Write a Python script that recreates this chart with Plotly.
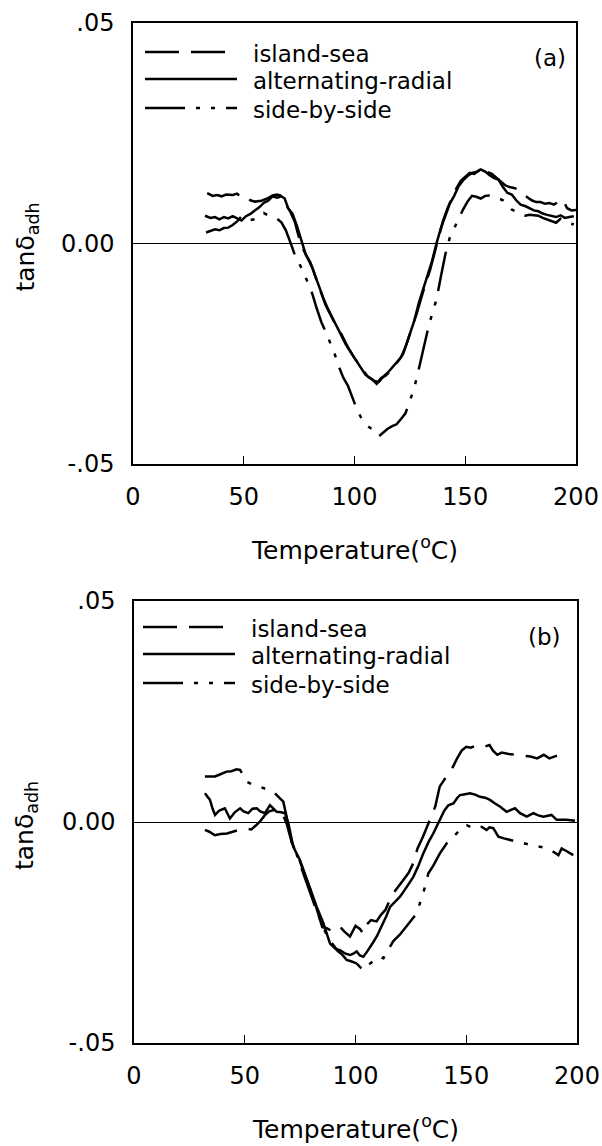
import plotly.graph_objects as go

# ---------------- data ----------------
series_names = ["island-sea", "alternating-radial", "side-by-side"]

# Panel (a)
a_island_x = [33.5, 36, 38, 40, 42, 45, 47, 49, 51, 53, 55, 58, 61, 63, 65, 67, 69, 71, 73, 75, 77, 79, 81, 83, 85, 87, 89, 91, 94, 97, 100, 103, 106, 108, 110, 112, 114, 116, 118, 120, 122, 124, 126, 128, 130, 132, 134, 136, 138, 140, 142, 144, 146, 148, 150, 152, 154, 156, 158, 160, 162, 164, 166, 168, 170, 172, 174, 176, 178, 180, 182, 184, 186, 188, 190, 192, 194, 196, 198, 200]
a_island_y = [0.0114, 0.0108, 0.0110, 0.0107, 0.0111, 0.0110, 0.0113, 0.0104, 0.0106, 0.0098, 0.0095, 0.0097, 0.0103, 0.0109, 0.0111, 0.0108, 0.0090, 0.0072, 0.0050, 0.0012, -0.0015, -0.0035, -0.0055, -0.0085, -0.0115, -0.0140, -0.0160, -0.0180, -0.0205, -0.0235, -0.0260, -0.0282, -0.0302, -0.0308, -0.0318, -0.0305, -0.0300, -0.0290, -0.0278, -0.0265, -0.0250, -0.0222, -0.0190, -0.0160, -0.0125, -0.0092, -0.0062, -0.0025, 0.0015, 0.0052, 0.0080, 0.0103, 0.0125, 0.0142, 0.0150, 0.0160, 0.0158, 0.0165, 0.0175, 0.0162, 0.0158, 0.0150, 0.0140, 0.0132, 0.0128, 0.0126, 0.0122, 0.0112, 0.0105, 0.0098, 0.0094, 0.0094, 0.0090, 0.0092, 0.0088, 0.0094, 0.0100, 0.0080, 0.0075, 0.0076]

a_radial_x = [32.5, 35, 37, 39, 41, 43, 45, 47, 49, 51, 53, 55, 57, 59, 61, 63, 65, 67, 68.5, 70, 72, 74, 76, 78, 80, 82, 84, 86, 88, 90, 93, 96, 99, 102, 105, 107, 109, 111, 113, 115, 117, 119, 121, 123, 125, 127, 129, 131, 133, 135, 137, 139, 141, 143, 145, 147, 149, 151, 153, 155, 157, 159, 161, 163, 165, 167, 169, 171, 173, 175, 177, 179, 181, 183, 185, 187, 189, 191, 193, 195, 197, 199]
a_radial_y = [0.0063, 0.0058, 0.0060, 0.0055, 0.0060, 0.0057, 0.0062, 0.0056, 0.0052, 0.0062, 0.0067, 0.0075, 0.0082, 0.0092, 0.0097, 0.0107, 0.0104, 0.0107, 0.0102, 0.0080, 0.0068, 0.0040, 0.0005, -0.0025, -0.0042, -0.0070, -0.0095, -0.0125, -0.0148, -0.0168, -0.0195, -0.0228, -0.0252, -0.0275, -0.0298, -0.0305, -0.0312, -0.0314, -0.0302, -0.0293, -0.0282, -0.0270, -0.0258, -0.0235, -0.0205, -0.0175, -0.0135, -0.0105, -0.0072, -0.0040, 0.0000, 0.0035, 0.0062, 0.0090, 0.0108, 0.0130, 0.0143, 0.0153, 0.0160, 0.0162, 0.0168, 0.0163, 0.0155, 0.0148, 0.0145, 0.0128, 0.0115, 0.0111, 0.0098, 0.0088, 0.0085, 0.0080, 0.0075, 0.0073, 0.0068, 0.0065, 0.0062, 0.0060, 0.0064, 0.0058, 0.0060, 0.0062]

a_side_x = [33, 35, 37, 39, 41, 43, 45, 47, 49, 51, 53, 55, 57, 59, 61, 63, 65, 67, 69, 71, 73, 75, 77, 79, 81, 83, 85, 87, 89, 91, 93, 95, 97, 99, 101, 103, 105, 107, 109, 111, 113, 115, 117, 119, 121, 123, 125, 127, 129, 131, 133, 135, 137, 139, 141, 143, 145, 147, 149, 151, 153, 155, 157, 159, 161, 163, 165, 167, 169, 171, 173, 175, 177, 179, 181, 183, 185, 187, 189, 191, 193, 195, 197, 199]
a_side_y = [0.0025, 0.0028, 0.0032, 0.0030, 0.0035, 0.0036, 0.0042, 0.0050, 0.0062, 0.0058, 0.0053, 0.0055, 0.0063, 0.0069, 0.0064, 0.0060, 0.0056, 0.0048, 0.0030, 0.0003, -0.0025, -0.0045, -0.0065, -0.0090, -0.0115, -0.0148, -0.0178, -0.0200, -0.0224, -0.0250, -0.0280, -0.0305, -0.0322, -0.0350, -0.0375, -0.0395, -0.0410, -0.0418, -0.0425, -0.0437, -0.0428, -0.0420, -0.0414, -0.0410, -0.0398, -0.0385, -0.0357, -0.0327, -0.0285, -0.0240, -0.0198, -0.0160, -0.0127, -0.0075, -0.0025, 0.0013, 0.0035, 0.0055, 0.0077, 0.0095, 0.0108, 0.0106, 0.0102, 0.0108, 0.0109, 0.0107, 0.0102, 0.0098, 0.0088, 0.0077, 0.0072, 0.0066, 0.0063, 0.0065, 0.0064, 0.0063, 0.0058, 0.0054, 0.0050, 0.0047, 0.0056, 0.0050, 0.0046, 0.0043]

# Panel (b)
b_island_x = [32, 34, 36.5, 39, 42, 45, 48, 51, 53, 55, 57, 59, 61, 63, 65, 67, 69, 71, 73, 75, 77, 79, 81, 83, 85, 87, 89, 91, 93, 95, 97.5, 100, 102, 103.5, 105, 107, 109.5, 111.5, 113.5, 115.5, 118, 121, 124, 126, 128, 130.5, 133.5, 136, 138, 140, 142, 144, 146, 148, 150, 152, 154, 156, 158, 160.5, 162, 164, 166, 168, 170, 173, 176, 179, 182, 185, 187.5, 190, 192, 195]
b_island_y = [-0.0018, -0.0022, -0.0030, -0.0027, -0.0026, -0.0022, -0.0017, -0.0015, -0.0017, -0.0008, 0.0002, 0.0015, 0.0024, 0.0027, 0.0024, 0.0020, -0.0005, -0.0042, -0.0068, -0.0090, -0.0118, -0.0145, -0.0172, -0.0205, -0.0238, -0.0240, -0.0246, -0.0238, -0.0237, -0.0248, -0.0259, -0.0235, -0.0242, -0.0252, -0.0232, -0.0222, -0.0225, -0.0210, -0.0199, -0.0176, -0.0155, -0.0135, -0.0115, -0.0094, -0.0060, -0.0033, 0.0005, 0.0035, 0.0080, 0.0095, 0.0108, 0.0125, 0.0145, 0.0162, 0.0170, 0.0168, 0.0172, 0.0168, 0.0170, 0.0174, 0.0162, 0.0152, 0.0157, 0.0155, 0.0153, 0.0152, 0.0150, 0.0148, 0.0144, 0.0152, 0.0144, 0.0148, 0.0152, 0.0146]

b_radial_x = [32, 33, 34.3, 35.5, 36.6, 38.5, 41, 43.3, 45.5, 47.9, 49.5, 51.6, 53.5, 55.4, 57, 59.1, 61.4, 63, 64.4, 66.5, 68.2, 69.7, 71.9, 74.9, 78, 80.5, 82.5, 85.5, 88.5, 91, 93, 95.5, 97.5, 99, 100.5, 102, 103.5, 105, 106.5, 108, 109.6, 111, 112.6, 114, 115.6, 118, 120.1, 123, 126.1, 128.5, 130.6, 133, 135.1, 138.1, 140, 141.9, 144.2, 146, 147.2, 149.5, 151.7, 154, 156.2, 158.5, 160.7, 163, 165.2, 168.2, 170, 172, 174.3, 177.3, 180.3, 182.5, 184.8, 186.5, 188.5, 190.8, 193, 195.3, 199.1]
b_radial_y = [0.0065, 0.0058, 0.0050, 0.0030, 0.0016, 0.0026, 0.0031, 0.0008, 0.0022, 0.0031, 0.0024, 0.0020, 0.0030, 0.0031, 0.0024, 0.0020, 0.0038, 0.0030, 0.0023, 0.0022, 0.0020, -0.0003, -0.0056, -0.0086, -0.0131, -0.0168, -0.0192, -0.0229, -0.0275, -0.0287, -0.0290, -0.0298, -0.0301, -0.0298, -0.0293, -0.0302, -0.0305, -0.0295, -0.0282, -0.0272, -0.0259, -0.0245, -0.0229, -0.0212, -0.0192, -0.0180, -0.0169, -0.0148, -0.0124, -0.0098, -0.0071, -0.0045, -0.0026, 0.0005, 0.0025, 0.0038, 0.0042, 0.0055, 0.0061, 0.0063, 0.0065, 0.0062, 0.0057, 0.0055, 0.0050, 0.0042, 0.0035, 0.0023, 0.0027, 0.0031, 0.0020, 0.0012, 0.0020, 0.0015, 0.0012, 0.0014, 0.0016, 0.0005, 0.0005, 0.0005, 0.0003]

b_side_x = [32, 34, 36.6, 39, 41.8, 44, 46.3, 47.9, 49.5, 50.9, 53, 56.9, 60, 62.9, 65, 67.4, 68.9, 70.4, 72, 74, 76, 78, 80, 82, 84, 86, 88, 90, 92, 94, 96, 98, 100.5, 102, 103.5, 105, 106.5, 108, 109.6, 111, 112.6, 115, 117, 120, 123, 125.5, 127.6, 129, 130.6, 132.9, 135, 138.1, 141.2, 144.2, 147.2, 150.2, 153.2, 155, 157, 159.2, 160.5, 162.2, 164.5, 167, 169.7, 172.5, 175.8, 179, 181, 183.3, 185.5, 187.8, 189.5, 191.6, 193.1, 195, 196.8, 198.3]
b_side_y = [0.0103, 0.0103, 0.0103, 0.0108, 0.0114, 0.0115, 0.0119, 0.0118, 0.0105, 0.0091, 0.0086, 0.0080, 0.0075, 0.0069, 0.0058, 0.0046, 0.0012, -0.0033, -0.0058, -0.0080, -0.0110, -0.0140, -0.0168, -0.0195, -0.0220, -0.0245, -0.0265, -0.0280, -0.0292, -0.0300, -0.0312, -0.0315, -0.0320, -0.0328, -0.0335, -0.0326, -0.0320, -0.0315, -0.0312, -0.0305, -0.0308, -0.0288, -0.0270, -0.0255, -0.0237, -0.0222, -0.0207, -0.0185, -0.0161, -0.0116, -0.0100, -0.0071, -0.0048, -0.0033, -0.0018, -0.0007, -0.0014, -0.0010, -0.0011, -0.0018, -0.0012, -0.0014, -0.0033, -0.0037, -0.0041, -0.0044, -0.0048, -0.0052, -0.0053, -0.0056, -0.0058, -0.0063, -0.0068, -0.0075, -0.0060, -0.0065, -0.0071, -0.0075]

x_tickvals = [0, 50, 100, 150, 200]
y_tickvals = [-0.05, 0.0, 0.05]
y_ticktext = ["-.05", "0.00", ".05"]
panel_labels = ["(a)", "(b)"]
x_title = "Temperature(<sup>o</sup>C)"
y_title = "tanδ<sub>adh</sub>"

# ---------------- styling ----------------
W, H = 602, 1146
FONT = "DejaVu Sans"
dash_styles = {
    "island-sea": "34px,12px",
    "alternating-radial": "solid",
    "side-by-side": "40px,11px,4px,11px,4px,11px",
}
LW = 2.5

fig = go.Figure()

panels = [
    ("x", "y", [(a_island_x, a_island_y), (a_radial_x, a_radial_y), (a_side_x, a_side_y)]),
    ("x2", "y2", [(b_island_x, b_island_y), (b_radial_x, b_radial_y), (b_side_x, b_side_y)]),
]
for xa, ya, data in panels:
    for name, (xs, ys) in zip(series_names, data):
        fig.add_trace(go.Scatter(
            x=xs, y=ys, mode="lines", name=name, xaxis=xa, yaxis=ya,
            line=dict(color="black", width=LW, dash=dash_styles[name]),
            showlegend=False, hoverinfo="skip",
        ))

# pixel boxes of the two plot areas (left, right, top, bottom)
boxes = [(133, 576, 23, 464), (134, 577, 601, 1043)]

def px_x(px):
    return px / W

def px_y(py):
    return 1 - py / H

axis_common = dict(
    showline=True, linecolor="black", linewidth=1.5, mirror=True,
    showgrid=False, ticks="inside", ticklen=8, tickwidth=1.2, tickcolor="black",
    tickfont=dict(family=FONT, size=24, color="black"), automargin=False,
)
layout = dict(
    width=W, height=H, margin=dict(l=0, r=0, t=0, b=0, autoexpand=False),
    paper_bgcolor="white", plot_bgcolor="white",
    font=dict(family=FONT, color="black"),
    showlegend=False,
)
for i, (l, r, t, b) in enumerate(boxes):
    sx = "" if i == 0 else "2"
    layout["xaxis" + sx] = dict(
        axis_common, domain=[px_x(l), px_x(r)], range=[0, 200],
        tickvals=x_tickvals, zeroline=False, anchor="y" + sx,
        ticklabelstandoff=10,
    )
    layout["yaxis" + sx] = dict(
        axis_common, domain=[px_y(b), px_y(t)], range=[-0.05, 0.05],
        tickvals=y_tickvals, ticktext=y_ticktext, ticklen=5,
        zeroline=True, zerolinecolor="black", zerolinewidth=1.2,
        anchor="x" + sx, ticklabelstandoff=12,
    )
fig.update_layout(**layout)

annotations = []
shapes = []
legend_rows = [[52, 79, 108], [627, 654, 683]]
legend_x = [(145, 237, 251), (143, 235, 249)]
label_pos = [(568, 58), (563, 637)]
for i, (l, r, t, b) in enumerate(boxes):
    zero_py = (t + b) / 2
    # x-axis title
    annotations.append(dict(
        text=x_title, x=px_x((l + r) / 2), y=px_y(b + 84), xref="paper", yref="paper",
        xanchor="center", yanchor="middle", showarrow=False,
        font=dict(family=FONT, size=25, color="black"),
    ))
    # y-axis title
    annotations.append(dict(
        text=y_title, x=px_x(26), y=px_y(zero_py + 4), xref="paper", yref="paper",
        xanchor="center", yanchor="middle", showarrow=False, textangle=-90,
        font=dict(family=FONT, size=25, color="black"),
    ))
    # panel label
    annotations.append(dict(
        text=panel_labels[i], x=px_x(label_pos[i][0]), y=px_y(label_pos[i][1]),
        xref="paper", yref="paper", xanchor="right", yanchor="middle",
        showarrow=False, font=dict(family=FONT, size=23, color="black"),
    ))
    # legend
    x0, x1, xt = legend_x[i]
    for name, ry in zip(series_names, legend_rows[i]):
        shapes.append(dict(
            type="line", xref="paper", yref="paper",
            x0=px_x(x0), x1=px_x(x1), y0=px_y(ry), y1=px_y(ry),
            line=dict(color="black", width=LW, dash=dash_styles[name]),
        ))
        annotations.append(dict(
            text=name, x=px_x(xt), y=px_y(ry + 2), xref="paper", yref="paper",
            xanchor="left", yanchor="middle", showarrow=False,
            font=dict(family=FONT, size=23, color="black"),
        ))

fig.update_layout(annotations=annotations, shapes=shapes)
fig.write_html("out.html")
